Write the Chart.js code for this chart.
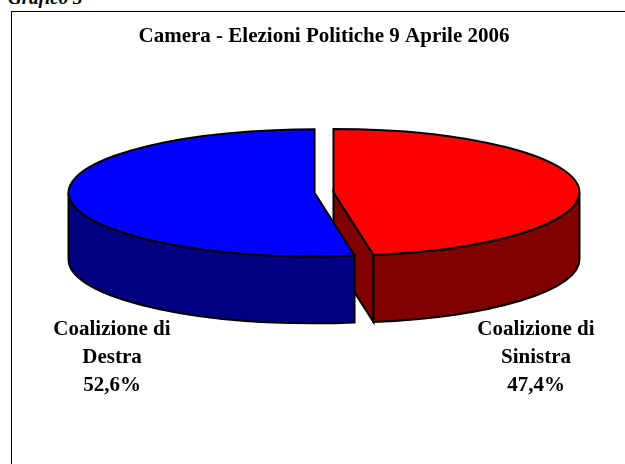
<!DOCTYPE html>
<html>
<head>
<meta charset="utf-8">
<script src="https://cdn.jsdelivr.net/npm/chart.js@4.4.1/dist/chart.umd.min.js"></script>
<style>
  html, body { margin: 0; padding: 0; background: #fff; }
  #page { position: relative; width: 625px; height: 464px; overflow: hidden; }
  #caption { position: absolute; left: 8px; top: -12px; font: italic bold 19px "Liberation Serif", serif; line-height: 19px; }
  #frame { position: absolute; left: 11px; top: 11px; width: 700px; height: 500px; border-left: 1.5px solid #000; border-top: 1.5px solid #000; }
  #wrap { position: absolute; left: 0; top: 0; width: 625px; height: 464px; }
</style>
</head>
<body>
<div id="page">
  <div id="caption">Grafico 3</div>
  <div id="frame"></div>
  <div id="wrap"><canvas id="pieChart"></canvas></div>
</div>
<script>
// dati
const titleText = 'Camera - Elezioni Politiche 9 Aprile 2006';
const coalitions = ['Coalizione di Sinistra', 'Coalizione di Destra'];
const shares = [47.4, 52.6];
const topColors = ['#ff0000', '#0000ff'];
const sideColors = ['#800000', '#000080'];

// forma della torta 3D
const RX = 246, RY = 63.5, DEPTH = 67, EXPLODE = 9.5;

const pie3d = {
    id: 'pie3d',
    beforeDatasetsDraw(chart) {
        const ctx = chart.ctx;
        const slices = chart.getDatasetMeta(0).data.map((arc, i) => {
            const p = arc.getProps(['x', 'y', 'startAngle', 'endAngle', 'outerRadius'], true);
            const mid = (p.startAngle + p.endAngle) / 2;
            return Object.assign({ arc: arc, i: i, mid: mid }, p, {
                ox: p.x + Math.cos(mid) * EXPLODE,
                oy: p.y + Math.sin(mid) * EXPLODE * RY / RX
            });
        });

        ctx.save();
        ctx.lineWidth = 2;
        ctx.strokeStyle = '#000';
        ctx.lineJoin = 'miter';

        // facce di taglio visibili
        slices.forEach(s => {
            [[s.startAngle, -1], [s.endAngle, 1]].forEach(([a, dir]) => {
                if (dir * Math.cos(a) <= 0.001) return;
                const ex = s.ox + RX * Math.cos(a), ey = s.oy + RY * Math.sin(a);
                ctx.beginPath();
                ctx.moveTo(s.ox, s.oy);
                ctx.lineTo(ex, ey);
                ctx.lineTo(ex, ey + DEPTH);
                ctx.lineTo(s.ox, s.oy + DEPTH);
                ctx.closePath();
                ctx.fillStyle = sideColors[s.i];
                ctx.fill();
                ctx.stroke();
            });
        });

        // bordo frontale
        slices.forEach(s => {
            for (let k = -1; k <= 1; k++) {
                const a0 = Math.max(s.startAngle, 2 * Math.PI * k);
                const a1 = Math.min(s.endAngle, Math.PI + 2 * Math.PI * k);
                if (a1 - a0 < 0.001) continue;
                ctx.beginPath();
                ctx.ellipse(s.ox, s.oy, RX, RY, 0, a0, a1, false);
                ctx.lineTo(s.ox + RX * Math.cos(a1), s.oy + RY * Math.sin(a1) + DEPTH);
                ctx.ellipse(s.ox, s.oy + DEPTH, RX, RY, 0, a1, a0, true);
                ctx.closePath();
                ctx.fillStyle = sideColors[s.i];
                ctx.fill();
                ctx.stroke();
            }
        });

        // superficie superiore (disegnata da Chart.js, schiacciata)
        slices.forEach(s => {
            ctx.save();
            ctx.translate(s.ox, s.oy);
            ctx.scale(RX / s.outerRadius, RY / s.outerRadius);
            ctx.translate(-s.x, -s.y);
            s.arc.draw(ctx);
            ctx.restore();
            ctx.beginPath();
            ctx.moveTo(s.ox, s.oy);
            ctx.ellipse(s.ox, s.oy, RX, RY, 0, s.startAngle, s.endAngle, false);
            ctx.closePath();
            ctx.stroke();
        });

        ctx.restore();
        return false;
    },
    afterDraw(chart) {
        const ctx = chart.ctx;
        ctx.save();
        ctx.fillStyle = '#000';
        ctx.font = 'bold 21px "Liberation Serif"';
        ctx.textAlign = 'center';
        ctx.textBaseline = 'middle';
        chart.getDatasetMeta(0).data.forEach((arc, i) => {
            const p = arc.getProps(['x', 'y', 'startAngle', 'endAngle'], true);
            const mid = (p.startAngle + p.endAngle) / 2;
            const side = Math.cos(mid) >= 0 ? 1 : -1;
            const lx = p.x + side * 212;
            const ly = p.y + RY + DEPTH + 6;
            const words = coalitions[i].split(' ');
            const lines = [
                words.slice(0, -1).join(' '),
                words[words.length - 1],
                shares[i].toFixed(1).replace('.', ',') + '%'
            ];
            lines.forEach((t, j) => ctx.fillText(t, lx, ly + j * 28));
        });
        ctx.restore();
    }
};

const ctx = document.querySelector('#pieChart').getContext('2d');
new Chart(ctx, {
    type: 'pie',
    data: {
        labels: coalitions,
        datasets: [{
            data: shares,
            backgroundColor: topColors,
            borderWidth: 0,
            offset: 0
        }]
    },
    options: {
        responsive: true,
        maintainAspectRatio: false,
        animation: false,
        layout: { padding: { left: 23, right: 0, top: 0, bottom: 138 } },
        plugins: {
            legend: { display: false },
            tooltip: { enabled: false },
            title: {
                display: true,
                text: titleText,
                color: '#000',
                font: { family: 'Liberation Serif', size: 21, weight: 'bold' },
                padding: { top: 24, bottom: 10 }
            }
        }
    },
    plugins: [pie3d]
});
</script>
</body>
</html>
